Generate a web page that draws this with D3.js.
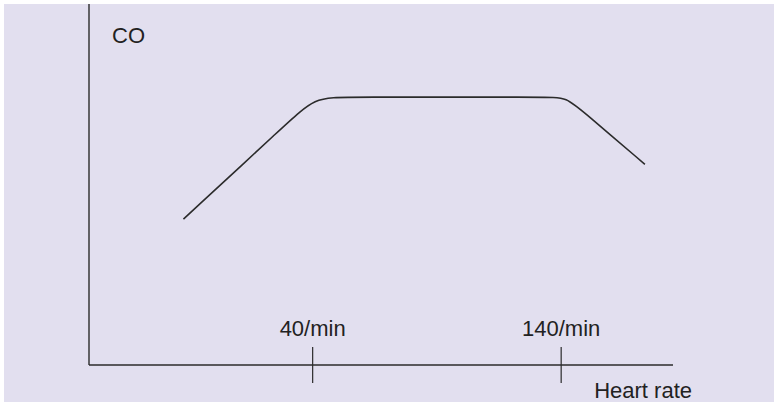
<!DOCTYPE html>
<html><head><meta charset="utf-8">
<script src="https://cdn.jsdelivr.net/npm/d3@7"></script>
<style>html,body{margin:0;padding:0;background:#fff;}svg{display:block;}</style>
</head><body>
<svg id="c" width="774" height="402"></svg>
<script>
// Schematic data: heart rate (bpm) vs cardiac output (arbitrary units)
const heartRate = [-12, 29, 41, 53, 134.5, 142, 149.5, 173.7];
const cardiacOutput = [40.4, 66.5, 74.2, 74.2, 74.2, 74.2, 69.8, 55.6];
const tickValues = [40, 140];
const tickLabels = ["40/min", "140/min"];
const xTitle = "Heart rate";
const yTitle = "CO";

const svg = d3.select("#c");
const font = "'Liberation Sans', Arial, sans-serif";
svg.append("rect").attr("x", 4).attr("y", 4).attr("width", 770).attr("height", 398).attr("fill", "#e2dfef");

const x = d3.scaleLinear().domain([-50, 185]).range([89, 673]);
const y = d3.scaleLinear().domain([0, 100]).range([365, 4]);

const ink = "#2b2b2b";
// y axis
svg.append("line").attr("x1", x(-50)).attr("x2", x(-50)).attr("y1", y(100)).attr("y2", y(0))
  .attr("stroke", ink).attr("stroke-width", 1.4);
// x axis
svg.append("line").attr("x1", x(-50)).attr("x2", x(185)).attr("y1", y(0)).attr("y2", y(0))
  .attr("stroke", ink).attr("stroke-width", 1.4);

// ticks crossing axis
svg.selectAll(".tk").data(tickValues).join("line")
  .attr("x1", d => x(d)).attr("x2", d => x(d))
  .attr("y1", y(0) - 18).attr("y2", y(0) + 18)
  .attr("stroke", ink).attr("stroke-width", 1.2);
svg.selectAll(".tl").data(tickValues).join("text")
  .attr("x", d => x(d)).attr("y", 336)
  .attr("text-anchor", "middle").attr("font-family", font).attr("font-size", 22).attr("fill", "#222")
  .text((d, i) => tickLabels[i]);

svg.append("text").attr("x", 692).attr("y", 398).attr("text-anchor", "end")
  .attr("font-family", font).attr("font-size", 22).attr("fill", "#222").text(xTitle);
svg.append("text").attr("x", 112).attr("y", 43)
  .attr("font-family", font).attr("font-size", 22).attr("fill", "#222").text(yTitle);

const pts = heartRate.map((h, i) => [x(h), y(cardiacOutput[i])]);
const line = d3.line().curve(d3.curveBasis);
svg.append("path").attr("d", line(pts)).attr("fill", "none").attr("stroke", ink).attr("stroke-width", 1.6);
</script>
</body></html>
